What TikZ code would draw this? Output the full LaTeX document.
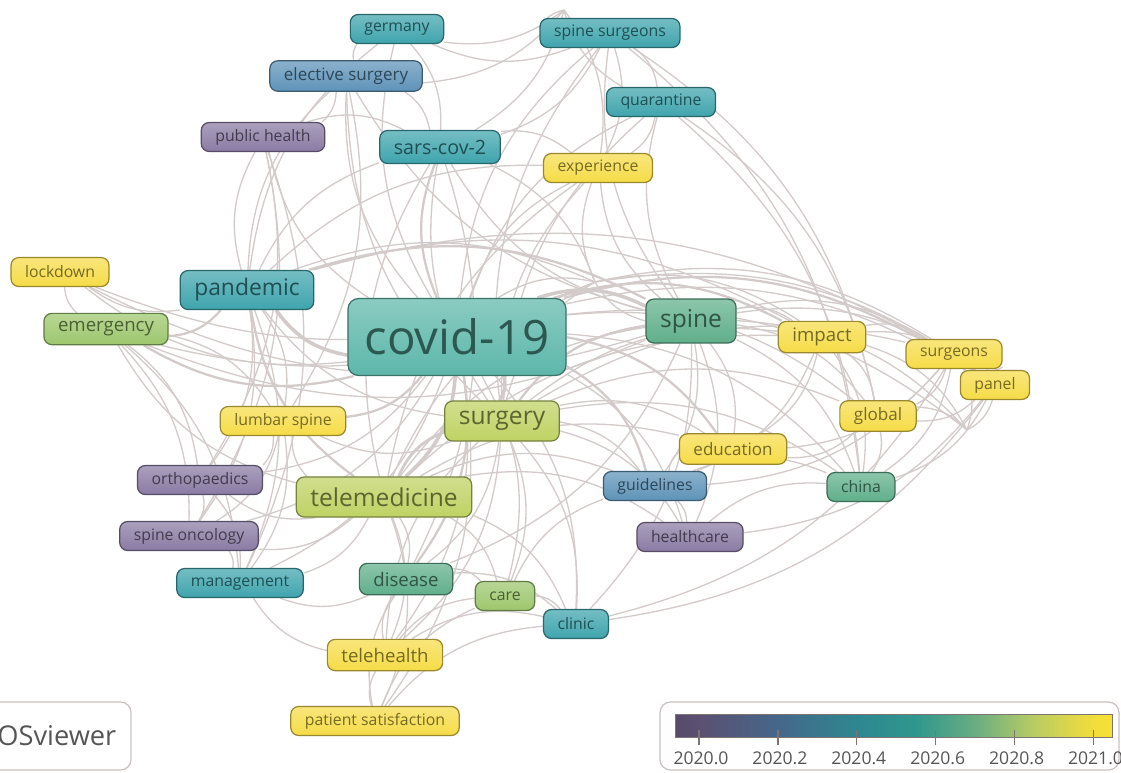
\documentclass[tikz,border=0pt]{standalone}
\usepackage{fontspec}
\setmainfont{Open Sans}
\usetikzlibrary{backgrounds}

\definecolor{edgec}{HTML}{D3CBC9}
\definecolor{ypurple}{HTML}{8A7BA3}
\definecolor{yblue}{HTML}{5E93B8}
\definecolor{yteal}{HTML}{3FA4AD}
\definecolor{ycovid}{HTML}{5DB7AA}
\definecolor{ygreen}{HTML}{60AF8B}
\definecolor{ylime}{HTML}{9DC76D}
\definecolor{yolive}{HTML}{BFD263}
\definecolor{yyellow}{HTML}{F6DC48}
\definecolor{legline}{HTML}{C9C1BF}
\definecolor{legtext}{HTML}{555555}
\definecolor{tickc}{HTML}{7D7573}
% colour bar, 2020.0 -> 2021.0
\definecolor{bar0}{HTML}{574B6B}
\definecolor{bar1}{HTML}{5B5072}
\definecolor{bar2}{HTML}{45678A}
\definecolor{bar3}{HTML}{2E8790}
\definecolor{bar4}{HTML}{2F978D}
\definecolor{bar5}{HTML}{6AAD82}
\definecolor{bar6}{HTML}{B9CC62}
\definecolor{bar7}{HTML}{F2DD3C}
\definecolor{bar8}{HTML}{F7E135}
\pgfdeclarehorizontalshading{yearbar}{100bp}{color(0bp)=(bar0); color(25bp)=(bar0);
  color(27.7bp)=(bar1); color(36.8bp)=(bar2); color(45.8bp)=(bar3); color(52.6bp)=(bar4);
  color(59.3bp)=(bar5); color(66.1bp)=(bar6); color(72.8bp)=(bar7); color(75bp)=(bar8);
  color(100bp)=(bar8)}

\tikzset{
  kw/.style={draw=#1!62!black, top color=#1!72!white, bottom color=#1, text=#1!48!black,
    rounded corners=4.5pt, inner xsep=8pt, inner ysep=0pt, minimum height=16.5pt,
    line width=0.7pt, font=\fontsize{9}{10}\selectfont},
  lblm/.style={font=\fontsize{9.7}{11}\selectfont, minimum height=17.3pt},
  lbll/.style={font=\fontsize{10.6}{12}\selectfont, minimum height=17.8pt},
  lblx/.style={font=\fontsize{11.2}{13}\selectfont, minimum height=18.8pt},
  lblxx/.style={font=\fontsize{13}{15}\selectfont, minimum height=22.2pt},
  lblxxx/.style={font=\fontsize{14}{16}\selectfont, minimum height=22.8pt},
  lnk/.style={draw=edgec, line width=0.75pt, bend left=22},
}

\begin{document}
\begin{tikzpicture}[x=0.02cm, y=-0.02cm]
  \useasboundingbox (0,0) rectangle (1121,772);
  \clip (0,0) rectangle (1121,772);

  % keywords
  \node [kw=yteal] (germany) at (397,29) {germany};
  \node [kw=yteal] (spsurg) at (610,33) {spine surgeons};
  \node [kw=yblue, lblm] (elective) at (346,76) {elective surgery};
  \node [kw=yteal] (quarant) at (661,102) {quarantine};
  \node [kw=ypurple] (pubhealth) at (263,137) {public health};
  \node [kw=yteal, lblx] (sars) at (440,147) {sars-cov-2};
  \node [kw=yyellow] (exper) at (598,168) {experience};
  \node [kw=yyellow] (lockdown) at (60,272) {lockdown};
  \node [kw=yteal, lblxx] (pandemic) at (247,290) {pandemic};
  \node [kw=ylime, lbll] (emerg) at (106,329) {emergency};
  \node [kw=ycovid, font=\fontsize{27}{30}\selectfont, minimum height=43.8pt, inner xsep=9.5pt, rounded corners=6pt] (covid) at (457,337) {covid-19};
  \node [kw=ygreen, lblxxx, minimum height=25pt] (spine) at (691,321) {spine};
  \node [kw=yyellow, lbll] (impact) at (822,337) {impact};
  \node [kw=yyellow] (surgeons) at (954,354) {surgeons};
  \node [kw=yyellow] (panel) at (995,385) {panel};
  \node [kw=yyellow, lblm] (global) at (878,416) {global};
  \node [kw=yyellow] (lumbar) at (283,421) {lumbar spine};
  \node [kw=yolive, lblxxx] (surgery) at (502,421) {surgery};
  \node [kw=yyellow, lblm] (educ) at (733,449) {education};
  \node [kw=ypurple] (ortho) at (200,480) {orthopaedics};
  \node [kw=yolive, lblxxx] (telemed) at (384,497) {telemedicine};
  \node [kw=yblue] (guide) at (655,486) {guidelines};
  \node [kw=ygreen] (china) at (861,487) {china};
  \node [kw=ypurple] (oncol) at (189,536) {spine oncology};
  \node [kw=ypurple] (healthc) at (690,537) {healthcare};
  \node [kw=yteal] (manag) at (240,583) {management};
  \node [kw=ygreen, lbll] (disease) at (406,579) {disease};
  \node [kw=ylime] (care) at (505,596) {care};
  \node [kw=yteal] (clinic) at (576,624) {clinic};
  \node [kw=yyellow, lbll] (telehealth) at (385,655) {telehealth};
  \node [kw=yyellow] (patsat) at (375,721) {patient satisfaction};
  % unlabelled items where links meet
  \coordinate (hubA) at (595,282);
  \coordinate (hubB) at (967,430);
  \coordinate (hubC) at (564,10);

  % links
  \begin{scope}[on background layer]
    \draw [lnk, line width=2pt] (covid) edge (pandemic) edge (surgery) edge (telemed) edge (spine);
    \draw [lnk, line width=1.3pt] (covid) edge (sars) edge (emerg) edge (lumbar) edge (disease) edge (impact) edge (educ) edge (guide) edge (surgeons);
    \draw [lnk] (covid) edge (germany) edge (elective) edge (pubhealth) edge (spsurg) edge (quarant) edge (exper) edge (lockdown) edge (panel) edge (global) edge (ortho) edge (china) edge (oncol) edge (healthc) edge (manag) edge (care) edge (clinic) edge (telehealth) edge (patsat) edge (hubA) edge (hubB);
    \draw [lnk, line width=1.6pt] (telemed) edge (surgery);
    \draw [lnk, line width=1.3pt] (telemed) edge (pandemic) (surgery) edge (spine) (pandemic) edge (emerg) (pandemic) edge (spine);
    \draw [lnk] (telemed) edge (disease) edge (care) edge (telehealth) edge (patsat) edge (manag) edge (oncol) edge (ortho) edge (lumbar) edge (emerg) edge (spine) edge (clinic) edge (guide) edge (educ) edge (healthc) edge (sars) edge (exper) edge (hubA) edge (impact);
    \draw [lnk] (surgery) edge (impact) edge (global) edge (educ) edge (guide) edge (china) edge (healthc) edge (clinic) edge (care) edge (disease) edge (elective) edge (sars) edge (pandemic) edge (exper) edge (quarant) edge (spsurg) edge (surgeons) edge (telehealth) edge (lumbar) edge (hubA);
    \draw [lnk] (spine) edge (impact) edge (surgeons) edge (panel) edge (global) edge (educ) edge (china) edge (guide) edge (healthc) edge (emerg) edge (elective) edge (sars) edge (spsurg) edge (quarant) edge (exper) edge (lockdown) edge (hubA) edge (hubB) edge (clinic) edge (disease);
    \draw [lnk] (pandemic) edge (lockdown) edge (sars) edge (elective) edge (pubhealth) edge (germany) edge (ortho) edge (lumbar) edge (manag) edge (oncol) edge (hubA) edge (exper) edge (impact) edge (surgeons);
    \draw [lnk] (impact) edge (surgeons) edge (panel) edge (global) edge (china) edge (educ) edge (hubB) edge (guide);
    \draw [lnk] (surgeons) edge (panel) edge (global) edge (china) edge (educ) edge (guide) edge (hubB) edge (clinic);
    \draw [lnk] (panel) edge (global) edge (china) edge (hubB) edge (clinic) edge (healthc);
    \draw [lnk] (global) edge (china) edge (educ) edge (hubB);
    \draw [lnk] (spsurg) edge (quarant) edge (exper) edge (sars) edge (global) edge (hubC) edge (china) edge (germany);
    \draw [lnk] (quarant) edge (exper) edge (china) edge (global) edge (hubC);
    \draw [lnk] (hubC) edge (germany) edge (elective) edge (sars) edge (exper);
    \draw [lnk] (elective) edge (germany) edge (sars) edge (pubhealth) edge (lumbar);
    \draw [lnk] (germany) edge (sars);
    \draw [lnk] (pubhealth) edge (sars) edge (oncol) edge (manag) edge (ortho);
    \draw [lnk] (patsat) edge (telehealth) edge (disease) edge (care) edge (clinic);
    \draw [lnk] (telehealth) edge (disease) edge (care) edge (clinic) edge (manag) edge (surgery);
    \draw [lnk] (lumbar) edge (ortho) edge (oncol) edge (manag);
    \draw [lnk] (emerg) edge (lockdown) edge (ortho) edge (manag) edge (oncol) edge (lumbar);
    \draw [lnk] (sars) edge (exper) edge (hubA) edge (disease);
    \draw [lnk] (hubA) edge (exper) edge (impact) edge (surgeons) edge (panel) edge (lockdown) edge (emerg);
    \draw [lnk] (disease) edge (care) edge (clinic) edge (manag);
    \draw [lnk] (care) edge (clinic) edge (guide);
    \draw [lnk] (guide) edge (healthc) edge (china) edge (educ);
    \draw [lnk] (healthc) edge (china);
    \draw [lnk] (ortho) edge (oncol) edge (manag);
    \draw [lnk] (oncol) edge (manag);
  \end{scope}

  % software label (cut off at the left)
  \draw [legline, rounded corners=6pt, line width=0.7pt] (-40,702) rectangle (131,770);
  \node [anchor=west, inner sep=0pt, text=legtext, font=\fontsize{15.5}{16}\selectfont] (vos) at (-3,736) {OSviewer};

  % colour scale
  \draw [legline, rounded corners=6pt, line width=0.7pt] (660,702) rectangle (1119,770);
  \shade [shading=yearbar] (675,714) rectangle (1112,737);
  \draw [tickc, line width=0.4pt] (675,714) rectangle (1112,737);
  \foreach \yr [count=\i from 0] in {2020.0,2020.2,2020.4,2020.6,2020.8,2021.0} {
    \draw [tickc, line width=0.7pt] (699+78.9*\i,730) -- (699+78.9*\i,745);
    \node [text=legtext, font=\fontsize{10}{10}\selectfont] (yr\i) at (701+78.9*\i,758) {\yr};
  }
\end{tikzpicture}
\end{document}
